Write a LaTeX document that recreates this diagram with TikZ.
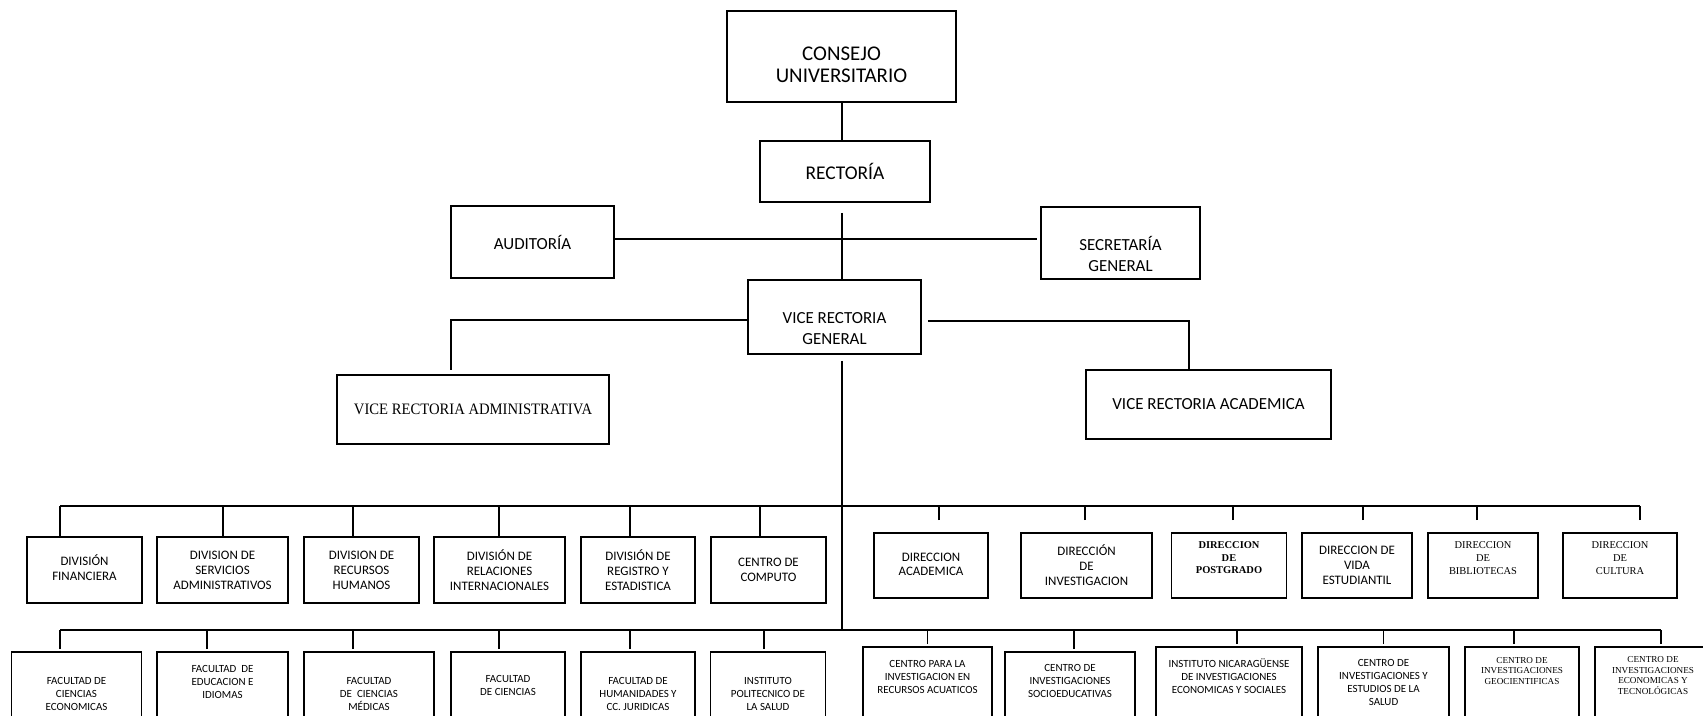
\documentclass[tikz,border=0pt]{standalone}
\usepackage{fontspec}
\setmainfont{Carlito}
\newfontfamily\romanfont{Liberation Serif}
\newfontfamily\narrowroman[FakeStretch=0.92]{Liberation Serif}
\newcommand{\fsz}[2]{\fontsize{#1}{#2}\selectfont}
\newcommand{\lifted}[2]{\raisebox{#1pt}[0pt][0pt]{\begin{tabular}{@{}c@{}}#2\end{tabular}}}

\tikzset{
  box/.style={draw, line width=1.6pt, rectangle, align=center, inner sep=0pt},
  link/.style={line width=1.3pt},
  spine/.style={line width=1.9pt},
  headbox/.style={box, font=\fsz{17}{21}},
  unitbox/.style={box, font=\fsz{13}{15}, minimum height=66bp},
  dirbox/.style={box, font=\fsz{13}{15}, minimum height=65bp},
  dirserif/.style={dirbox, font=\romanfont\fsz{10.5}{13}},
  basebox/.style={box, anchor=north, font=\fsz{11}{13}, minimum height=100bp},
  baseserif/.style={basebox, font=\romanfont\fsz{9.2}{10.7}},
}

\begin{document}
\begin{tikzpicture}[x=1bp, y=-1bp]
    \useasboundingbox (0,0) rectangle (1703,716);
    \clip (0,0) rectangle (1703,716);

    % upper levels
    \node [headbox, font=\fsz{21}{22}, minimum width=229bp, minimum height=91bp] (consejo) at (841.5,56.5) {\lifted{-16}{CONSEJO\\UNIVERSITARIO}};
    \node [headbox, font=\fsz{19.5}{22}, minimum width=170bp, minimum height=61bp] (rectoria) at (845,171.5) {RECTORÍA};
    \node [headbox, minimum width=163bp, minimum height=72bp] (audit) at (532.5,242) {AUDITORÍA};
    \node [headbox, minimum width=159bp, minimum height=72bp] (secre) at (1120.5,243) {\lifted{-18}{SECRETARÍA\\GENERAL}};
    \node [headbox, minimum width=173bp, minimum height=74bp] (vrg) at (834.5,317) {\lifted{-17}{VICE RECTORIA\\GENERAL}};
    \node [box, font=\narrowroman\fsz{16}{18}, minimum width=272bp, minimum height=69bp] (vradm) at (473,409.5) {VICE RECTORIA ADMINISTRATIVA};
    \node [headbox, minimum width=245bp, minimum height=69bp] (vraca) at (1208.5,404.5) {VICE RECTORIA ACADEMICA};

    \coordinate (axis) at (842,0);
    \coordinate (upbus) at (0,506);
    \coordinate (lowbus) at (0,630);

    \draw [spine] (axis |- consejo.south) -- (axis |- rectoria.north);
    \draw [spine] ([yshift=-10bp]axis |- rectoria.south) -- (axis |- vrg.north);
    \draw [spine] ([yshift=-6bp]axis |- vrg.south) -- (axis |- lowbus);
    \draw [link] ([yshift=3bp]audit.east) -- ([xshift=-3bp,yshift=3bp]audit.east -| secre.west);
    \draw [link] ([yshift=-3bp]vrg.west) -| ([xshift=-22bp,yshift=4bp]vradm.north);
    \draw [link] ([xshift=6bp,yshift=-4bp]vrg.east) -| ([xshift=-19.5bp]vraca.north);

    % divisions and direcciones
    \node [unitbox, minimum width=115bp] (fin) at (84.5,570) {\lifted{-3}{DIVISIÓN\\FINANCIERA}};
    \node [unitbox, minimum width=131bp] (serv) at (222.5,570) {DIVISION DE\\SERVICIOS\\ADMINISTRATIVOS};
    \node [unitbox, minimum width=115bp] (rrhh) at (361.5,570) {DIVISION DE\\RECURSOS\\HUMANOS};
    \node [unitbox, minimum width=131bp] (rel) at (499.5,570) {DIVISIÓN DE\\RELACIONES\\INTERNACIONALES};
    \node [unitbox, minimum width=114bp] (reg) at (638,570) {DIVISIÓN DE\\REGISTRO Y\\ESTADISTICA};
    \node [unitbox, minimum width=115bp] (comp) at (768.5,570) {CENTRO DE\\COMPUTO};

    \node [dirbox, minimum width=114bp] (dac) at (931,565.5) {\lifted{-3}{DIRECCION\\ACADEMICA}};
    \node [dirbox, minimum width=131bp] (dinv) at (1086.5,565.5) {DIRECCIÓN\\DE\\INVESTIGACION};
    \node [dirserif, font=\romanfont\bfseries\fsz{10.5}{12.5}, minimum width=115bp] (dpos) at (1229,565.5) {\lifted{4}{DIRECCION\\DE\\POSTGRADO}};
    \node [dirbox, minimum width=110bp] (dvida) at (1357,565.5) {DIRECCION DE\\VIDA\\ESTUDIANTIL};
    \node [dirserif, minimum width=110bp] (dbib) at (1483,565.5) {\lifted{4}{DIRECCION\\DE\\BIBLIOTECAS}};
    \node [dirserif, minimum width=114bp] (dcul) at (1620,565.5) {\lifted{4}{DIRECCION\\DE\\CULTURA}};

    \draw [link] ([xshift=-24.5bp]fin.north |- upbus) -- ([xshift=20bp]dcul.north |- upbus);
    \foreach \n/\dx in {fin/-24.5, serv/0.5, rrhh/-8.5, rel/-0.5, reg/-8, comp/-8.5}
        \draw [link] ([xshift=\dx bp]\n.north) -- ([xshift=\dx bp]\n.north |- upbus);
    \foreach \n/\dx in {dac/8, dinv/-1.5, dpos/4, dvida/6, dbib/-6, dcul/20}
        \draw [link] ([xshift=\dx bp,yshift=12bp]\n.north) -- ([xshift=\dx bp]\n.north |- upbus);

    % facultades and centros
    \node [basebox, minimum width=130bp] (fce) at (76.5,651) {\lifted{4.4}{FACULTAD DE\\CIENCIAS\\ECONOMICAS}};
    \node [basebox, minimum width=131bp] (fedu) at (222.5,651) {\lifted{16.4}{FACULTAD~ DE\\EDUCACION E\\IDIOMAS}};
    \node [basebox, minimum width=130bp] (fmed) at (369,651) {\lifted{4.4}{FACULTAD\\DE~ CIENCIAS\\MÉDICAS}};
    \node [basebox, minimum width=114bp] (fcien) at (508,651) {\lifted{12.4}{FACULTAD\\DE CIENCIAS}};
    \node [basebox, minimum width=114bp] (fhum) at (638,651) {\lifted{4.4}{FACULTAD DE\\HUMANIDADES Y\\CC. JURIDICAS}};
    \node [basebox, minimum width=115bp] (ipsa) at (768,651) {\lifted{4.4}{INSTITUTO\\POLITECNICO DE\\LA SALUD}};

    \node [basebox, minimum width=129bp] (cira) at (927.5,646) {\lifted{16.4}{CENTRO PARA LA\\INVESTIGACION EN\\RECURSOS ACUATICOS}};
    \node [basebox, minimum width=130bp] (cise) at (1070,651) {\lifted{17.4}{CENTRO DE\\INVESTIGACIONES\\SOCIOEDUCATIVAS}};
    \node [basebox, minimum width=146bp] (inies) at (1229,646) {\lifted{16.4}{INSTITUTO NICARAGÜENSE\\DE INVESTIGACIONES\\ECONOMICAS Y SOCIALES}};
    \node [basebox, minimum width=131bp] (cies) at (1383.5,646) {\lifted{10.4}{CENTRO DE\\INVESTIGACIONES Y\\ESTUDIOS DE LA\\SALUD}};
    \node [baseserif, minimum width=114bp] (cigeo) at (1522,646) {\lifted{23}{CENTRO DE\\INVESTIGACIONES\\GEOCIENTIFICAS}};
    \node [baseserif, minimum width=116bp] (ciet) at (1653,646) {\lifted{18}{CENTRO DE\\INVESTIGACIONES\\ECONOMICAS Y\\TECNOLÓGICAS}};

    \draw [link] ([xshift=-16.5bp]fce.north |- lowbus) -- ([xshift=8bp]ciet.north |- lowbus);
    \foreach \n/\dx in {fce/-16.5, fedu/-15.5, fmed/-16, fcien/-9, fhum/-8, ipsa/-4, cira/0, cise/4, inies/8, cies/0, cigeo/-8, ciet/8}
        \draw [link] ([xshift=\dx bp,yshift=2bp]\n.north) -- ([xshift=\dx bp]\n.north |- lowbus);
\end{tikzpicture}
\end{document}
